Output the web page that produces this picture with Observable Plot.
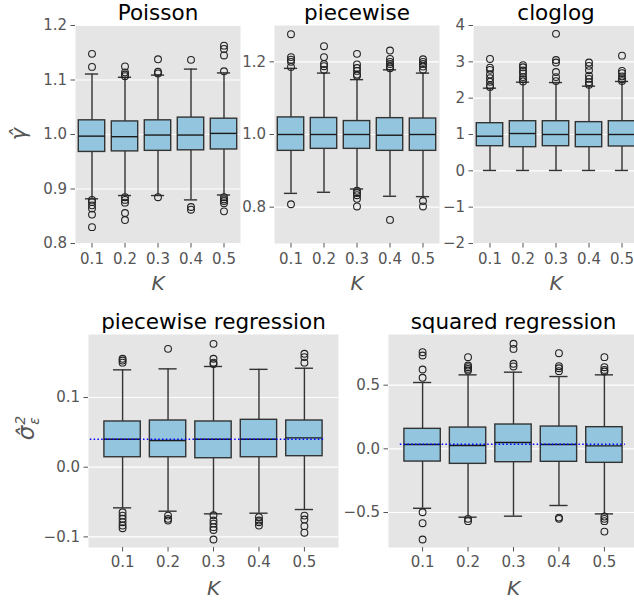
<!DOCTYPE html>
<html><head><meta charset="utf-8">
<script src="https://cdn.jsdelivr.net/npm/d3@7"></script>
<script src="https://cdn.jsdelivr.net/npm/@observablehq/plot@0.6"></script>
<style>
html,body{margin:0;padding:0;overflow:hidden;background:white;}
#root{position:relative;width:634px;height:600px;overflow:hidden;font-family:"DejaVu Sans";}
.ylab{position:absolute;transform:translate(-50%,-50%) rotate(-90deg);font-family:"DejaVu Sans";color:#555;white-space:nowrap;font-style:italic;}
.stack{display:inline-flex;flex-direction:column;font-size:14px;line-height:0.95;vertical-align:middle;margin-left:1px;}
</style></head><body><div id="root"></div>
<script>
const kappa = ["0.1","0.2","0.3","0.4","0.5"];

// Poisson
const poisQ1  = [0.968, 0.969, 0.970, 0.971, 0.9725];
const poisMed = [0.997, 0.996, 0.999, 0.999, 1.002];
const poisQ3  = [1.026, 1.024, 1.026, 1.031, 1.029];
const poisLo  = [0.882, 0.888, 0.888, 0.880, 0.889];
const poisHi  = [1.111, 1.105, 1.109, 1.120, 1.113];
const poisOut = [
  [1.148, 1.124, 0.880, 0.876, 0.870, 0.864, 0.853, 0.830],
  [1.125, 1.114, 1.110, 1.107, 0.885, 0.880, 0.875, 0.856, 0.843],
  [1.138, 1.115, 1.112, 0.885],
  [1.137, 0.867, 0.862],
  [1.163, 1.157, 1.145, 1.116, 0.885, 0.881, 0.878, 0.874, 0.859]
];
const poisTicks = [0.8, 0.9, 1.0, 1.1, 1.2];
const poisTickLabels = ["0.8", "0.9", "1.0", "1.1", "1.2"];

// piecewise
const pwQ1  = [0.955, 0.9605, 0.9605, 0.955, 0.955];
const pwMed = [1.0, 1.0, 1.0, 0.998, 1.0];
const pwQ3  = [1.047, 1.0455, 1.037, 1.045, 1.044];
const pwLo  = [0.838, 0.841, 0.850, 0.830, 0.829];
const pwHi  = [1.182, 1.169, 1.151, 1.178, 1.169];
const pwOut = [
  [1.276, 1.213, 1.206, 1.200, 1.186, 0.808],
  [1.243, 1.213, 1.194, 1.188, 1.178],
  [1.222, 1.193, 1.183, 1.175, 1.165, 1.162, 0.845, 0.839, 0.833, 0.823, 0.802],
  [1.231, 1.208, 1.200, 1.194, 1.187, 1.182, 0.765],
  [1.207, 1.200, 1.194, 1.187, 1.178, 0.817, 0.802]
];
const pwTicks = [0.8, 1.0, 1.2];
const pwTickLabels = ["0.8", "1.0", "1.2"];

// cloglog
const clQ1  = [0.678, 0.651, 0.678, 0.651, 0.670];
const clMed = [0.953, 1.027, 1.0, 1.0, 1.0];
const clQ3  = [1.311, 1.366, 1.366, 1.340, 1.366];
const clLo  = [0.01, 0.01, 0.01, 0.01, 0.01];
const clHi  = [2.275, 2.44, 2.43, 2.33, 2.46];
const clOut = [
  [3.08, 2.84, 2.78, 2.65, 2.55, 2.45, 2.35, 2.31],
  [2.91, 2.85, 2.76, 2.68, 2.58, 2.52, 2.46],
  [3.77, 3.05, 2.98, 2.72, 2.58, 2.47],
  [2.98, 2.89, 2.77, 2.62, 2.53, 2.44, 2.37],
  [3.17, 2.75, 2.69, 2.60, 2.52, 2.47]
];
const clTicks = [-2, -1, 0, 1, 2, 3, 4];
const clTickLabels = ["\u22122", "\u22121", "0", "1", "2", "3", "4"];

// piecewise regression
const prQ1  = [0.0143, 0.0143, 0.0129, 0.0143, 0.0158];
const prMed = [0.0402, 0.0383, 0.0402, 0.0402, 0.0421];
const prQ3  = [0.0656, 0.067, 0.0656, 0.068, 0.067];
const prLo  = [-0.0583, -0.0631, -0.0669, -0.066, -0.0607];
const prHi  = [0.1397, 0.1411, 0.1445, 0.1404, 0.142];
const prOut = [
  [0.1555, 0.153, 0.150, -0.0646, -0.0694, -0.074, -0.0789, -0.0837, -0.0875],
  [0.1698, -0.0694, -0.0741, -0.0765],
  [0.177, 0.1555, 0.150, 0.148, -0.069, -0.0765, -0.081, -0.086, -0.090, -0.1037],
  [-0.0717, -0.0765, -0.0789, -0.0837],
  [0.1627, 0.158, 0.150, -0.0694, -0.0751, -0.0846, -0.094]
];
const prTicks = [-0.1, 0.0, 0.1];
const prTickLabels = ["\u22120.1", "0.0", "0.1"];
const prRef = [0.04];
const prRefExtent = [-0.71, 4.46];

// squared regression
const sqQ1  = [-0.100, -0.118, -0.105, -0.102, -0.110];
const sqMed = [0.034, 0.026, 0.0495, 0.034, 0.0236];
const sqQ3  = [0.157, 0.167, 0.191, 0.175, 0.170];
const sqLo  = [-0.467, -0.537, -0.529, -0.445, -0.511];
const sqHi  = [0.521, 0.581, 0.602, 0.568, 0.581];
const sqOut = [
  [0.759, 0.733, 0.623, 0.558, -0.498, -0.584, -0.712],
  [0.72, 0.654, 0.641, 0.628, 0.615, -0.55, -0.568],
  [0.825, 0.785, 0.668, 0.647],
  [0.751, 0.649, 0.633, 0.610, -0.540, -0.550],
  [0.72, 0.641, 0.62, 0.607, -0.532, -0.55, -0.568, -0.65]
];
const sqTicks = [-0.5, 0.0, 0.5];
const sqTickLabels = ["\u22120.5", "0.0", "0.5"];
const sqRef = [0.035];
const sqRefExtent = [-0.49, 4.46];

const BOX = "#93c6de", EDGE = "#333333", MED = "#1a1a1a";

function panel(o) {
  const rows = kappa.map((k, i) => ({i, q1: o.q1[i], med: o.med[i], q3: o.q3[i], lo: o.lo[i], hi: o.hi[i]}));
  const pts = o.out.flatMap((vs, i) => vs.map(v => ({i, v})));
  const marks = [
    Plot.frame({fill: "#e5e5e5", stroke: "none"}),
    Plot.gridY(o.yTicks, {stroke: "white", strokeOpacity: 1, strokeWidth: 1.2}),
    Plot.axisY(o.yTicks, {tickSize: 4.5, tickPadding: 4, label: null,
      tickFormat: d => o.yTickLabels[o.yTicks.indexOf(d)]}),
    Plot.axisX([0, 1, 2, 3, 4], {tickSize: 4.5, tickPadding: o.padX, label: null,
      tickFormat: i => kappa[i]}),
    Plot.ruleX(rows, {x: "i", y1: "lo", y2: "q1", stroke: EDGE, strokeWidth: 1.4}),
    Plot.ruleX(rows, {x: "i", y1: "q3", y2: "hi", stroke: EDGE, strokeWidth: 1.4}),
    Plot.ruleY(rows, {y: "lo", x1: d => d.i - 0.2, x2: d => d.i + 0.2, stroke: EDGE, strokeWidth: 1.4}),
    Plot.ruleY(rows, {y: "hi", x1: d => d.i - 0.2, x2: d => d.i + 0.2, stroke: EDGE, strokeWidth: 1.4}),
    Plot.rect(rows, {x1: d => d.i - 0.4, x2: d => d.i + 0.4, y1: "q1", y2: "q3", fill: BOX, stroke: EDGE, strokeWidth: 1.4}),
    Plot.ruleY(rows, {y: "med", x1: d => d.i - 0.4, x2: d => d.i + 0.4, stroke: MED, strokeWidth: 1.4}),
    Plot.dot(pts, {x: "i", y: "v", r: 3.4, stroke: "#222", fill: "none", strokeWidth: 1.1})
  ];
  if (o.ref) marks.push(Plot.ruleY(o.ref, {x1: o.refExt[0], x2: o.refExt[1], stroke: "blue", strokeWidth: 1.5, strokeDasharray: "1.5,2.3"}));
  marks.push(Plot.text([o.title], {frameAnchor: "top", lineAnchor: "bottom", dy: -5.5, fontSize: 21.5, fill: "black"}));
  marks.push(Plot.text(["K"], {frameAnchor: "bottom", lineAnchor: "bottom", dy: o.kDy, fontSize: 20, fontStyle: "italic", fill: "#555"}));
  return Plot.plot({
    width: o.width, height: o.height,
    marginLeft: o.ml, marginRight: o.mr, marginTop: o.mt, marginBottom: o.mb,
    x: {domain: o.xDomain},
    y: {domain: o.yDomain},
    style: {position: "absolute", left: o.left + "px", top: o.top + "px", fontSize: "15px",
      fontFamily: "DejaVu Sans", color: "#555", background: "none", overflow: "visible"},
    marks
  });
}

const root = document.getElementById("root");
const topCommon = {top: 0, height: 300, mt: 25, mb: 57, mr: 10, xDomain: [-0.5, 4.5], padX: 5, kDy: 46};
const botCommon = {top: 300, height: 300, mt: 34, mb: 53, mr: 10, xDomain: [-0.75, 4.75], padX: 4, kDy: 47};

root.appendChild(panel({...topCommon, left: 0, width: 250, ml: 75, title: "Poisson",
  q1: poisQ1, med: poisMed, q3: poisQ3, lo: poisLo, hi: poisHi, out: poisOut,
  yDomain: [0.8, 1.2], yTicks: poisTicks, yTickLabels: poisTickLabels}));
root.appendChild(panel({...topCommon, left: 200, width: 249, ml: 74, title: "piecewise",
  q1: pwQ1, med: pwMed, q3: pwQ3, lo: pwLo, hi: pwHi, out: pwOut,
  yDomain: [0.7, 1.3], yTicks: pwTicks, yTickLabels: pwTickLabels}));
root.appendChild(panel({...topCommon, left: 400, width: 248, ml: 73, title: "cloglog",
  q1: clQ1, med: clMed, q3: clQ3, lo: clLo, hi: clHi, out: clOut,
  yDomain: [-2, 4], yTicks: clTicks, yTickLabels: clTickLabels}));
root.appendChild(panel({...botCommon, left: 0, width: 348, ml: 88, title: "piecewise regression",
  q1: prQ1, med: prMed, q3: prQ3, lo: prLo, hi: prHi, out: prOut,
  yDomain: [-0.1152, 0.1904], yTicks: prTicks, yTickLabels: prTickLabels, ref: prRef, refExt: prRefExtent}));
root.appendChild(panel({...botCommon, left: 300, width: 350, ml: 88, mr: 12, title: "squared regression",
  q1: sqQ1, med: sqMed, q3: sqQ3, lo: sqLo, hi: sqHi, out: sqOut,
  yDomain: [-0.775, 0.898], yTicks: sqTicks, yTickLabels: sqTickLabels, ref: sqRef, refExt: sqRefExtent}));

const g = document.createElement("div");
g.className = "ylab";
g.style.left = "19px"; g.style.top = "134px"; g.style.fontSize = "21px";
g.textContent = "\u03b3\u0302";
root.appendChild(g);

const s = document.createElement("div");
s.className = "ylab";
s.style.left = "27px"; s.style.top = "428px"; s.style.fontSize = "23px";
s.innerHTML = "\u03c3\u0302<span class='stack'><span>2</span><span>\u03b5</span></span>";
root.appendChild(s);
</script></body></html>
